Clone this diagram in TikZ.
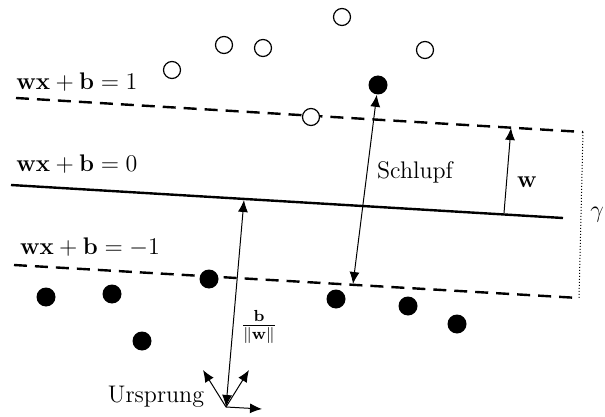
\documentclass[tikz,border=0pt]{standalone}
\usepackage{amsmath}
\usepackage{tikz}
\usetikzlibrary{arrows.meta, positioning}

\begin{document}
\begin{tikzpicture}[
  x=0.5pt, y=-0.5pt,
  hyper/.style={line width=1.2pt},
  margin/.style={line width=1.2pt, dash pattern=on 6.5pt off 4pt},
  pospt/.style={circle, draw, fill=white, line width=0.6pt, minimum size=8.5pt, inner sep=0pt},
  negpt/.style={circle, fill, minimum size=9.5pt, inner sep=0pt},
  lbl/.style={font=\large},
  vec/.style={-{Latex[length=6pt, width=5pt]}, line width=0.5pt},
  dvec/.style={{Latex[length=6pt, width=5pt]}-{Latex[length=6pt, width=5pt]}, line width=0.5pt}
]
\useasboundingbox (0,0) rectangle (605,417);

% Trennebenen
\coordinate (upL) at (16,98);
\coordinate (upR) at (583,132);
\coordinate (midL) at (11,185);
\coordinate (midR) at (563,218);
\coordinate (lowL) at (14,265);
\coordinate (lowR) at (579,298);

\draw[margin] (upL) -- (upR);
\draw[hyper] (midL) -- (midR);
\draw[margin] (lowL) -- (lowR);
\draw[densely dotted, line width=0.5pt] (upR) -- (lowR);

\node[lbl] (l1) at (77,82) {$\mathbf{wx}+\mathbf{b}=1$};
\node[lbl] (l0) at (77,164) {$\mathbf{wx}+\mathbf{b}=0$};
\node[lbl] (lm) at (90,247) {$\mathbf{wx}+\mathbf{b}=-1$};
\node[lbl] (gamma) at (597,215) {$\gamma$};

% Klasse +1
\node[pospt] (p1) at (172,70) {};
\node[pospt] (p2) at (224,45) {};
\node[pospt] (p3) at (263,48) {};
\node[pospt] (p4) at (342,17) {};
\node[pospt] (p5) at (425,50) {};
\node[pospt] (p6) at (311,117) {};

% Klasse -1
\node[negpt] (n0) at (378,85) {};
\node[negpt] (n1) at (46,297) {};
\node[negpt] (n2) at (112,294) {};
\node[negpt] (n3) at (209,279) {};
\node[negpt] (n4) at (142,341) {};
\node[negpt] (n5) at (336,299) {};
\node[negpt] (n6) at (408,306) {};
\node[negpt] (n7) at (457,324) {};

% Schlupf
\coordinate (s1) at (353,284);
\draw[dvec] (n0) -- (s1);
\node[lbl] (schlupf) at (415,172) {Schlupf};

% Normalenvektor
\coordinate (w0) at (504,213);
\coordinate (w1) at (511,128);
\draw[vec] (w0) -- (w1);
\node[lbl] (wlbl) at (527,182) {$\mathbf{w}$};

% Ursprung
\coordinate (orig) at (226,407);
\coordinate (h0) at (244,200);
\coordinate (ax1) at (262,409);
\coordinate (ax2) at (203,370);
\coordinate (ax3) at (249,370);
\draw[dvec] (orig) -- (h0);
\draw[vec] (orig) -- (ax1);
\draw[vec] (orig) -- (ax2);
\draw[vec] (orig) -- (ax3);
\node[lbl] (ursprung) at (156,397) {Ursprung};
\node[lbl] (blbl) at (259,327) {$\frac{\mathbf{b}}{\|\mathbf{w}\|}$};

\end{tikzpicture}
\end{document}
